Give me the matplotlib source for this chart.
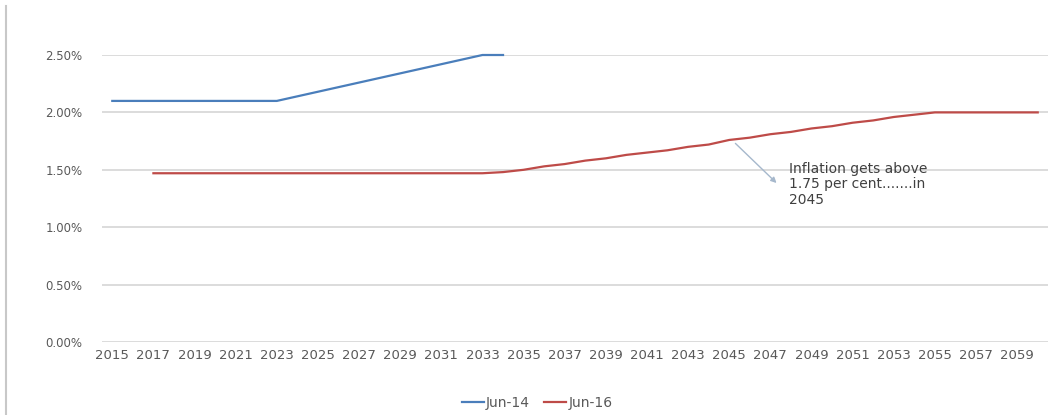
import matplotlib
matplotlib.use("Agg")
import matplotlib.pyplot as plt
from matplotlib.lines import Line2D

# projected inflation, per cent
years_jun14 = list(range(2015, 2035))
jun14 = [2.10, 2.10, 2.10, 2.10, 2.10, 2.10, 2.10, 2.10, 2.10,
         2.14, 2.18, 2.22, 2.26, 2.30, 2.34, 2.38, 2.42, 2.46, 2.50, 2.50]

years_jun16 = list(range(2017, 2061))
jun16 = [1.47] * 17 + [1.48, 1.50, 1.53, 1.55, 1.58, 1.60, 1.63, 1.65, 1.67,
                       1.70, 1.72, 1.76, 1.78, 1.81, 1.83, 1.86, 1.88, 1.91,
                       1.93, 1.96, 1.98, 2.00, 2.00, 2.00, 2.00, 2.00, 2.00]

tick_years = list(range(2015, 2061, 2))
y_ticks = [0, 0.5, 1.0, 1.5, 2.0, 2.5]

blue = "#4a7ebb"
red = "#be4b48"
grid_c = "#d9d9d9"
txt_c = "#595959"

fig = plt.figure(figsize=(10.48, 4.15), dpi=100)
ax = fig.add_axes([102 / 1048, 73 / 415, 946 / 1048, 287 / 415])

ax.plot(years_jun14, jun14, color=blue, lw=1.6, label="Jun-14", clip_on=False)
ax.plot(years_jun16, jun16, color=red, lw=1.6, label="Jun-16", clip_on=False)

ax.set_xlim(2014.5, 2060.5)
ax.set_ylim(0, 2.5)
ax.set_yticks(y_ticks)
ax.set_yticklabels(["%.2f%%" % v for v in y_ticks], fontsize=8.5)
ax.set_xticks(tick_years)
ax.set_xticklabels([str(y) for y in tick_years], fontsize=9.5)
ax.tick_params(axis="both", length=0, colors=txt_c)
ax.tick_params(axis="y", pad=14)
ax.tick_params(axis="x", pad=5)
ax.grid(axis="y", color=grid_c, lw=1.3)
ax.set_axisbelow(True)
for s in ax.spines.values():
    s.set_visible(False)

# arrow from the red line down to the note
ax.annotate("", xy=(2047.3, 1.385), xytext=(2045.3, 1.73),
            arrowprops=dict(arrowstyle="-|>", color="#a6b8cc", lw=1.0,
                            shrinkA=0, shrinkB=0, mutation_scale=8),
            annotation_clip=False)
ax.text(2047.9, 1.565, "Inflation gets above\n1.75 per cent.......in\n2045",
        fontsize=10, color="#404040", ha="left", va="top", linespacing=1.1)

ax.legend(loc="center", bbox_to_anchor=(537 / 1048, 12 / 415),
          bbox_transform=fig.transFigure, ncol=2, frameon=False,
          fontsize=10, handlelength=1.6, handletextpad=0.15, columnspacing=1.0,
          labelcolor=txt_c)

fig.add_artist(Line2D([6 / 1048, 6 / 1048], [0, 0.985], color="#c8c8c8", lw=1.5))

fig.savefig("out.png", dpi=100)
